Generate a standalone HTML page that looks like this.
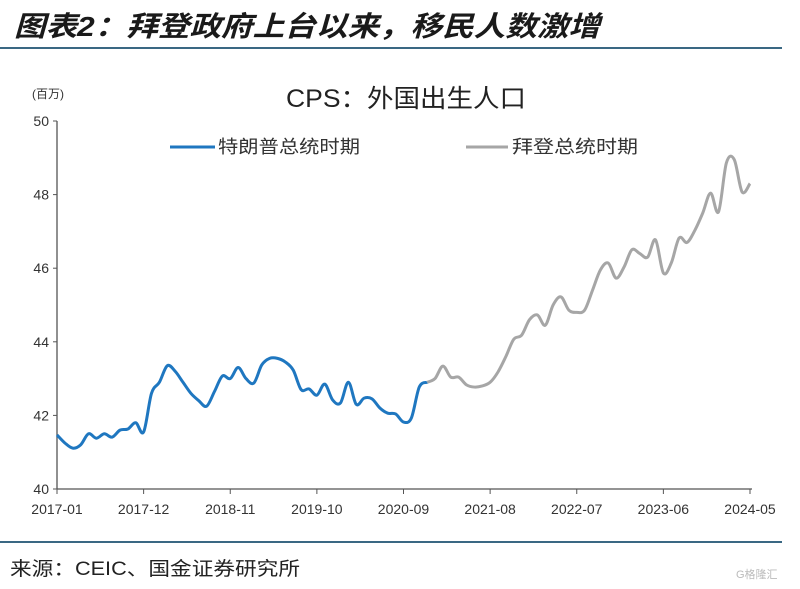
<!DOCTYPE html>
<html><head><meta charset="utf-8"><style>
body{margin:0;background:#fff;width:800px;height:589px;overflow:hidden}
svg{display:block}
text{font-family:"Liberation Sans","Noto Sans CJK SC",sans-serif}
</style></head><body>
<svg id="chart" width="800" height="589">
<text x="14" y="36" font-size="28" font-weight="bold" font-style="italic" fill="#1a1a1a" textLength="586" lengthAdjust="spacingAndGlyphs">图表2：拜登政府上台以来，移民人数激增</text>
<line x1="0" y1="48" x2="782" y2="48" stroke="#3a6883" stroke-width="2"/>
<text x="32" y="98" font-size="12" fill="#333">(百万)</text>
<text x="286" y="107" font-size="25" fill="#222" textLength="240" lengthAdjust="spacingAndGlyphs">CPS：外国出生人口</text>
<g>
<line x1="170" y1="147" x2="215" y2="147" stroke="#1f77c0" stroke-width="3"/>
<text x="218" y="153" font-size="18" fill="#333" textLength="142" lengthAdjust="spacingAndGlyphs">特朗普总统时期</text>
<line x1="466" y1="147" x2="508" y2="147" stroke="#a6a6a6" stroke-width="3"/>
<text x="512" y="153" font-size="18" fill="#333" textLength="126" lengthAdjust="spacingAndGlyphs">拜登总统时期</text>
</g>
<g id="axes"></g>
<g id="series"></g>
<line x1="0" y1="542" x2="782" y2="542" stroke="#3a6883" stroke-width="2"/>
<text x="10" y="575" font-size="19" fill="#222" textLength="290" lengthAdjust="spacingAndGlyphs">来源：CEIC、国金证券研究所</text>
<text x="736" y="578" font-size="11" fill="#bbb">G格隆汇</text>
</svg>
<script>
const yTicks=[40,42,44,46,48,50];
const xTickLabels=["2017-01","2017-12","2018-11","2019-10","2020-09","2021-08","2022-07","2023-06","2024-05"];
const trumpValues=[41.47,41.25,41.11,41.2,41.5,41.38,41.5,41.41,41.6,41.63,41.8,41.55,42.6,42.9,43.35,43.2,42.9,42.6,42.4,42.25,42.65,43.07,43.0,43.3,43.0,42.88,43.37,43.55,43.55,43.45,43.23,42.7,42.72,42.55,42.85,42.42,42.34,42.9,42.3,42.47,42.45,42.2,42.06,42.04,41.82,41.93,42.77,42.9];
const bidenValues=[42.9,43.0,43.34,43.04,43.04,42.83,42.77,42.8,42.9,43.18,43.6,44.07,44.18,44.6,44.73,44.45,45.0,45.22,44.86,44.8,44.86,45.4,45.95,46.14,45.73,46.03,46.5,46.4,46.3,46.77,45.87,46.14,46.82,46.7,47.03,47.5,48.04,47.53,48.86,48.95,48.07,48.3];
const bidenStart=trumpValues.length-1;
const X0=57,X1=750,Y0=489,Y1=121,N=88;
const xs=i=>X0+(X1-X0)*i/N;
const ys=v=>Y0-(v-40)/(50-40)*(Y0-Y1);
const NS="http://www.w3.org/2000/svg";
const ax=document.getElementById('axes'),se=document.getElementById('series');
function mk(tag,attrs,parent){const e=document.createElementNS(NS,tag);for(const k in attrs)e.setAttribute(k,attrs[k]);parent.appendChild(e);return e;}
let l=mk('line',{x1:X0,y1:Y1,x2:X0,y2:Y0,stroke:'#555','stroke-width':1.3},ax);


l=mk('line',{x1:X0,y1:Y0,x2:X1+2,y2:Y0,stroke:'#555','stroke-width':1.3},ax);


yTicks.forEach(v=>{
 const t=mk('line',{x1:X0-4,x2:X0,y1:ys(v),y2:ys(v),stroke:'#555'},ax);
 
 
 const tx=mk('text',{x:X0-8,y:ys(v)+5,'font-size':14,fill:'#333','text-anchor':'end'},ax);
 tx.textContent=v;
 
 
});
xTickLabels.forEach((s,k)=>{
 const x=xs(k*11);
 const t=mk('line',{x1:x,x2:x,y1:Y0,y2:Y0+5,stroke:'#555'},ax);
 
 
 const tx=mk('text',{x:x,y:514,'font-size':14,fill:'#333','text-anchor':'middle'},ax);
 tx.textContent=s;
 
 
});
function path(vals,off){
 const p=vals.map((v,i)=>[xs(i+off),ys(v)]);
 let d='M'+p[0][0]+','+p[0][1];
 for(let i=0;i<p.length-1;i++){
  const a=p[Math.max(0,i-1)],b=p[i],c=p[i+1],e=p[Math.min(p.length-1,i+2)];
  d+=' C'+(b[0]+(c[0]-a[0])/6)+','+(b[1]+(c[1]-a[1])/6)+' '+(c[0]-(e[0]-b[0])/6)+','+(c[1]-(e[1]-b[1])/6)+' '+c[0]+','+c[1];
 }
 return d;
}
let p=mk('path',{d:path(bidenValues,bidenStart),fill:'none',stroke:'#a6a6a6','stroke-width':3},se);


p=mk('path',{d:path(trumpValues,0),fill:'none',stroke:'#1f77c0','stroke-width':3},se);


</script>
</body></html>
